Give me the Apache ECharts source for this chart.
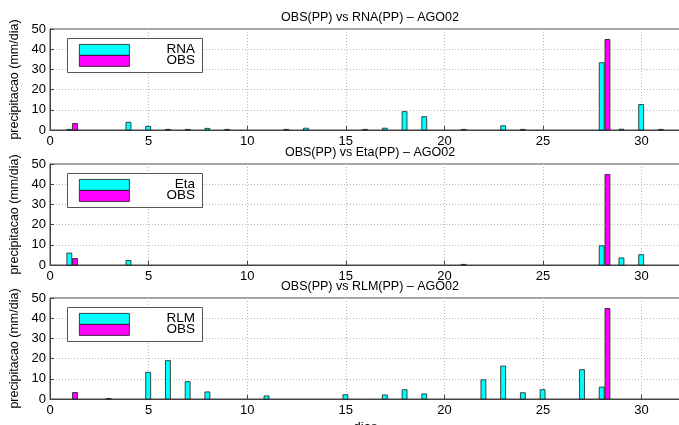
<!DOCTYPE html>
<html>
<head>
<meta charset="utf-8">
<script src="https://cdn.jsdelivr.net/npm/echarts@6/dist/echarts.min.js"></script>
<style>
html,body{margin:0;padding:0;background:#fff;}
#chart{width:679px;height:425px;}
</style>
</head>
<body>
<div id="chart"></div>
<script>
// ---- data ----
const days = [1,2,3,4,5,6,7,8,9,10,11,12,13,14,15,16,17,18,19,20,21,22,23,24,25,26,27,28,29,30,31];
const rna  = [0.3,0,0,3.8,1.8,0.3,0.3,0.8,0.3,0,0,0.3,0.9,0,0,0.3,0.9,9.1,6.6,0,0.3,0,2.1,0.3,0,0,0,33.3,0.4,12.6,0.3];
const eta  = [5.9,0,0,2.2,0,0,0,0,0,0,0,0,0,0,0,0,0,0,0,0,0.3,0,0,0,0,0,0,9.5,3.5,5.1,0];
const rlm  = [0,0,0.2,0,13.2,19.0,8.6,3.5,0,0,1.5,0,0,0,2.1,0,2.0,4.6,2.5,0,0,9.5,16.3,3.1,4.6,0,14.5,5.9,0,0,0];
const obs  = [3.2,0,0,0,0,0,0,0,0,0,0,0,0,0,0,0,0,0,0,0,0,0,0,0,0,0,0,44.8,0,0,0];
const modelNames = ['RNA','Eta','RLM'];
const titles = ['OBS(PP) vs RNA(PP) \u2013 AGO02','OBS(PP) vs Eta(PP) \u2013 AGO02','OBS(PP) vs RLM(PP) \u2013 AGO02'];
const yTicks = [0,10,20,30,40,50];
const xTicks = [0,5,10,15,20,25,30];
const yLabel = 'precipitacao (mm/dia)';
const xLabel = 'dias';

const models = [rna, eta, rlm];
const FONT = 'Liberation Sans, Arial, Helvetica, sans-serif';
const CYAN = '#00ffff', MAG = '#ff00ff';
const tops = [29, 164, 298];
const H = 101;

function barRenderer(color, offset){
  return function(params, api){
    const x = api.value(0), v = api.value(1);
    if (!v) return null;
    const p0 = api.coord([x + offset, 0]);
    const p1 = api.coord([x + offset, v]);
    const w = api.size([0.25, 0])[0];
    return {type:'rect', shape:{x:p0[0]-w/2, y:p1[1], width:w, height:p0[1]-p1[1]},
      style:{fill:color, stroke:'#1a1a1a', lineWidth:0.8}};
  };
}

const grids=[], xAxes=[], yAxes=[], series=[], titleArr=[], graphics=[];
for (let i=0;i<3;i++){
  const top = tops[i];
  grids.push({left:50, top:top, width:631, height:H, show:true, borderColor:'#444', borderWidth:1,
    backgroundColor:'#fff', containLabel:false, outerBoundsMode:'none'});
  xAxes.push({type:'value', gridIndex:i, min:0, max:32, interval:5,
    axisLine:{show:true, onZero:false, lineStyle:{color:'#444'}},
    axisTick:{show:true, inside:true, length:4, lineStyle:{color:'#444'}},
    axisLabel:{color:'#000', fontFamily:FONT, fontSize:13, margin:5, showMaxLabel:false,
      formatter:function(v){return xTicks.indexOf(v)>=0 ? String(v) : '';}},
    splitLine:{show:true, lineStyle:{color:'#b8b8b8', type:[1,2], width:1}},
    name: i===2 ? xLabel : '', nameLocation:'middle', nameGap:22,
    nameTextStyle:{color:'#000', fontFamily:FONT, fontSize:13}
  });
  yAxes.push({type:'value', gridIndex:i, min:0, max:50, interval:10,
    axisLine:{show:true, lineStyle:{color:'#444'}},
    axisTick:{show:true, inside:true, length:4, lineStyle:{color:'#444'}},
    axisLabel:{color:'#000', fontFamily:FONT, fontSize:13, margin:4,
      formatter:function(v){return yTicks.indexOf(v)>=0 ? String(v) : '';}},
    splitLine:{show:true, lineStyle:{color:'#b8b8b8', type:[1,2], width:1}},
    name:yLabel, nameLocation:'middle', nameGap:21,
    nameTextStyle:{color:'#000', fontFamily:FONT, fontSize:12.5}
  });
  series.push({type:'custom', name:modelNames[i], xAxisIndex:i, yAxisIndex:i,
    data: days.map((d,k)=>[d, models[i][k]]), renderItem: barRenderer(CYAN, -0.02)});
  series.push({type:'custom', name:'OBS', xAxisIndex:i, yAxisIndex:i,
    data: days.map((d,k)=>[d, obs[k]]), renderItem: barRenderer(MAG, 0.27)});
  titleArr.push({text:titles[i], left:365, textAlign:'center', top:top-23,
    textStyle:{fontFamily:FONT, fontSize:12.5, fontWeight:'normal', color:'#000'}});
  // legend box
  graphics.push({type:'rect', left:67, top:top+9, shape:{width:135, height:34},
    style:{fill:'#fff', stroke:'#555', lineWidth:1}, z:100});
  graphics.push({type:'rect', left:79, top:top+15, shape:{width:50, height:11},
    style:{fill:CYAN, stroke:'#1a1a1a', lineWidth:0.8}, z:101});
  graphics.push({type:'rect', left:79, top:top+26, shape:{width:50, height:11},
    style:{fill:MAG, stroke:'#1a1a1a', lineWidth:0.8}, z:101});
  graphics.push({type:'text', right:679-195, top:top+13, z:101,
    style:{text:modelNames[i], fontFamily:FONT, fontSize:13.5, fill:'#000', textAlign:'right'}});
  graphics.push({type:'text', right:679-195, top:top+24, z:101,
    style:{text:'OBS', fontFamily:FONT, fontSize:13.5, fill:'#000', textAlign:'right'}});
}

const chart = echarts.init(document.getElementById('chart'), null, {renderer:'canvas'});
chart.setOption({
  animation:false,
  backgroundColor:'#fff',
  title:titleArr,
  grid:grids, xAxis:xAxes, yAxis:yAxes, series:series,
  graphic:graphics
});
</script>
</body>
</html>
